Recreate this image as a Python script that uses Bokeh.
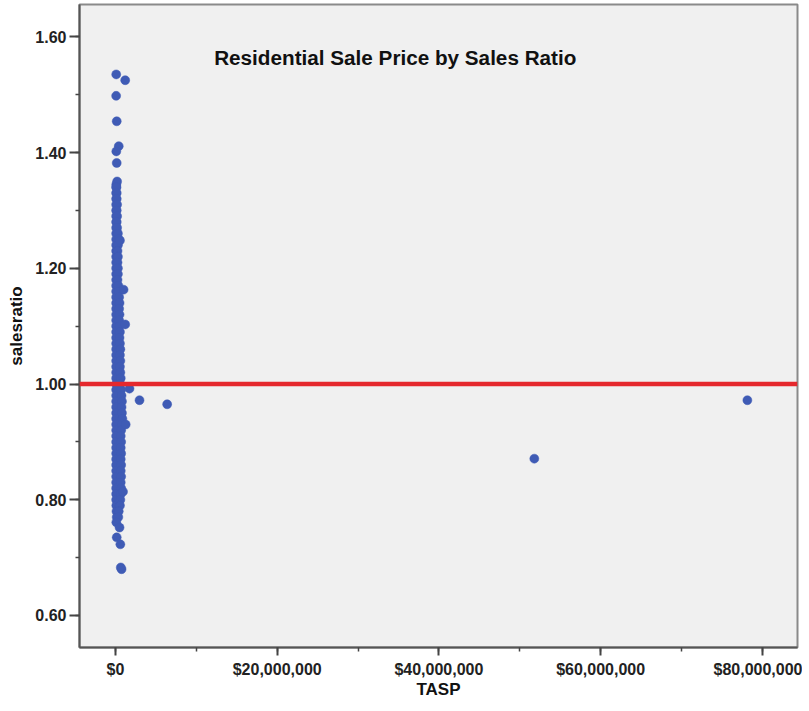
from bokeh.plotting import figure
from bokeh.models import Range1d, SingleIntervalTicker, NumeralTickFormatter, Span, Label, ColumnDataSource
from bokeh.embed import file_html
from bokeh.resources import INLINE

# ---- data ----
# isolated points above the dense band
top_tasp = [90000, 1200000, 80000, 150000, 400000, 100000, 150000, 100000, 200000]
top_ratio = [1.535, 1.525, 1.498, 1.454, 1.411, 1.402, 1.382, 1.345, 1.350]

# dense band of sales near $0 (rows of ratio, left-edge and right-edge prices)
band_ratio = [1.34, 1.33, 1.32, 1.31, 1.30, 1.29, 1.28, 1.27, 1.26, 1.25,
              1.24, 1.23, 1.22, 1.21, 1.20, 1.19, 1.18, 1.17, 1.16, 1.15,
              1.14, 1.13, 1.12, 1.11, 1.10, 1.09, 1.08, 1.07, 1.06, 1.05,
              1.04, 1.03, 1.02, 1.01, 1.00, 0.99, 0.98, 0.97, 0.96, 0.95,
              0.94, 0.93, 0.92, 0.91, 0.90, 0.89, 0.88, 0.87, 0.86, 0.85,
              0.84, 0.83, 0.82, 0.81, 0.80, 0.79, 0.78, 0.77]
band_tasp_low = [80000, 80000, 80000, 80000, 80000, 80000, 80000, 80000, 80000, 80000,
                 80000, 80000, 80000, 80000, 80000, 80000, 80000, 80000, 80000, 80000,
                 80000, 80000, 80000, 80000, 80000, 80000, 80000, 80000, 80000, 80000,
                 80000, 80000, 80000, 80000, 80000, 80000, 80000, 80000, 80000, 80000,
                 80000, 80000, 80000, 80000, 80000, 80000, 80000, 80000, 80000, 80000,
                 80000, 80000, 80000, 80000, 80000, 100000, 120000, 150000]
band_tasp_high = [120000, 150000, 150000, 200000, 150000, 200000, 150000, 200000, 300000, 400000,
                  300000, 250000, 300000, 250000, 300000, 300000, 250000, 350000, 400000, 450000,
                  500000, 450000, 500000, 450000, 500000, 550000, 500000, 550000, 600000, 550000,
                  600000, 550000, 600000, 650000, 600000, 700000, 750000, 800000, 750000, 800000,
                  850000, 750000, 700000, 650000, 700000, 650000, 700000, 650000, 700000, 650000,
                  700000, 650000, 700000, 650000, 600000, 550000, 400000, 350000]

# points bulging out of the right side of the band
bulge_tasp = [550000, 1000000, 1200000, 1730000, 1260000, 930000]
bulge_ratio = [1.248, 1.163, 1.103, 0.992, 0.930, 0.814]

# low tail under the band
tail_tasp = [100000, 500000, 150000, 600000, 650000, 750000]
tail_ratio = [0.761, 0.752, 0.735, 0.723, 0.683, 0.680]

# high-priced outliers
far_tasp = [2970000, 6390000, 51800000, 78150000]
far_ratio = [0.972, 0.965, 0.871, 0.972]

x_ticks_interval = 20000000
y_ticks_interval = 0.2

# ---- build ----
xs = top_tasp + band_tasp_low + band_tasp_high + bulge_tasp + tail_tasp + far_tasp
ys = top_ratio + band_ratio + band_ratio + bulge_ratio + tail_ratio + far_ratio
src = ColumnDataSource(dict(tasp=xs, salesratio=ys))

p = figure(width=802, height=702, output_backend="svg", toolbar_location=None,
           x_range=Range1d(-4453000, 84350000), y_range=Range1d(0.5447, 1.6558),
           min_border_left=79, min_border_right=5, min_border_top=4, min_border_bottom=55,
           background_fill_color="#F0F0F0", border_fill_color="white")
p.grid.visible = False
p.outline_line_color = "#8a8a8a"
p.outline_line_width = 2

p.scatter("tasp", "salesratio", source=src, size=9, fill_color="#3F5BB5",
          line_color="#3F5BB5", line_width=0.5)

p.add_layout(Span(location=1.0, dimension="width", line_color="#E5282D", line_width=4.5))

p.xaxis.ticker = SingleIntervalTicker(interval=x_ticks_interval, num_minor_ticks=2)
p.xaxis.formatter = NumeralTickFormatter(format="$0,0")
p.yaxis.ticker = SingleIntervalTicker(interval=y_ticks_interval, num_minor_ticks=2)
p.yaxis.formatter = NumeralTickFormatter(format="0.00")

for ax in (p.xaxis[0], p.yaxis[0]):
    ax.axis_line_color = "#555555"
    ax.axis_line_width = 2
    ax.major_tick_line_color = "#444444"
    ax.major_tick_line_width = 2
    ax.major_tick_in = 0
    ax.minor_tick_line_color = "#444444"
    ax.minor_tick_line_width = 1.5
    ax.minor_tick_in = 0
    ax.minor_tick_out = 4
    ax.major_label_text_font = "Liberation Sans"
    ax.major_label_text_font_style = "bold"
    ax.major_label_text_color = "#222222"
    ax.axis_label_text_font = "Liberation Sans"
    ax.axis_label_text_font_style = "bold"
    ax.axis_label_text_font_size = "17px"
    ax.axis_label_text_color = "#111111"

p.xaxis.major_tick_out = 8
p.xaxis.major_label_text_font_size = "16px"
p.xaxis.major_label_standoff = 5
p.xaxis.axis_label = "TASP"
p.xaxis.axis_label_standoff = -1

p.yaxis.major_tick_out = 10
p.yaxis.major_label_text_font_size = "16px"
p.yaxis.major_label_standoff = 3
p.yaxis.axis_label = "salesratio"
p.yaxis.axis_label_standoff = 6

p.add_layout(Label(x=34600000, y=1.5647, text="Residential Sale Price by Sales Ratio",
                   text_align="center", text_baseline="alphabetic",
                   text_font="Liberation Sans", text_font_style="bold",
                   text_font_size="20.7px", text_color="#111111"))

open("out.html", "w").write(file_html(p, INLINE))
